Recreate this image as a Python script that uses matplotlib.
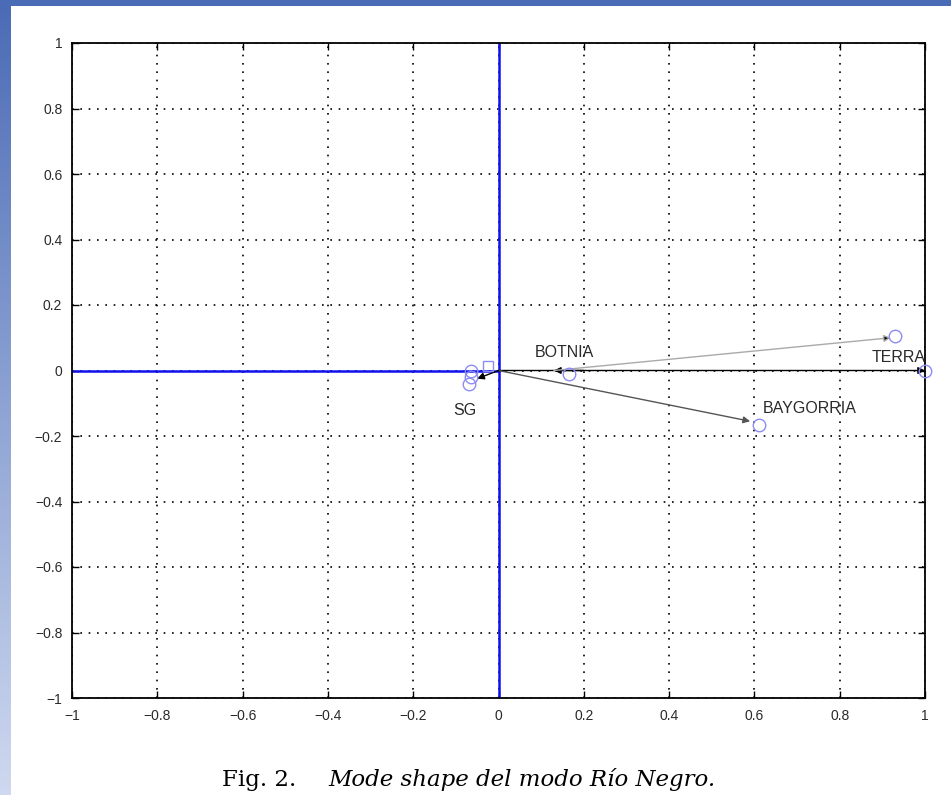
import numpy as np
import matplotlib
matplotlib.use("Agg")
import matplotlib.pyplot as plt

# mode shape vectors (tips of arrows)
names = ["TERRA", "BAYGORRIA", "BOTNIA", "SG"]
tip_x = [1.0, 0.59, 0.13, -0.05]
tip_y = [0.0, -0.155, 0.0, -0.025]
tail_x = [0.0, 0.0, 0.20, 0.0]
tail_y = [0.0, 0.0, 0.0, 0.0]
line_col = ["black", "#555555", "black", "black"]

# circle markers near the tips
circ_x = [1.0, 0.61, 0.165, -0.065, -0.065, -0.07, 0.93]
circ_y = [0.0, -0.165, -0.01, 0.0, -0.02, -0.042, 0.105]

# light grey vector
grey_tail = (0.13, 0.0)
grey_tip = (0.92, 0.10)
sq_x, sq_y = [-0.025], [0.015]

label_x = [0.876, 0.62, 0.085, -0.107]
label_y = [0.026, -0.13, 0.041, -0.136]

ticks = np.round(np.arange(-1, 1.01, 0.2), 1)
tick_labels = ["\u22121", "\u22120.8", "\u22120.6", "\u22120.4", "\u22120.2", "0",
               "0.2", "0.4", "0.6", "0.8", "1"]

W, H = 951, 795
fig = plt.figure(figsize=(W / 100, H / 100), dpi=100)

# blue slide border: top strip and left gradient strip
bg = fig.add_axes([0, 0, 1, 1], zorder=-10)
bg.set_xlim(0, W)
bg.set_ylim(H, 0)
bg.axis("off")
grad = np.linspace(0, 1, 256)[:, None]
top_c = np.array([0.29, 0.42, 0.71])
bot_c = np.array([0.81, 0.85, 0.94])
img = top_c + (bot_c - top_c) * grad
bg.imshow(img.reshape(256, 1, 3), extent=[0, 11, H, 0], aspect="auto")
bg.add_patch(plt.Rectangle((0, 0), W, 6, color=top_c, lw=0))

ax = fig.add_axes([72 / W, 97 / H, (925 - 72) / W, (698 - 43) / H])
ax.set_xlim(-1, 1)
ax.set_ylim(-1, 1)
ax.set_xticks(ticks)
ax.set_yticks(ticks)
ax.set_xticklabels(tick_labels)
ax.set_yticklabels(tick_labels)
ax.tick_params(direction="in", top=True, right=True, length=5, width=1,
               labelsize=10, labelcolor="#2a2a2a")
ax.tick_params(axis="x", pad=8)
ax.tick_params(axis="y", pad=7)
for t in ax.get_xticklabels() + ax.get_yticklabels():
    t.set_family("Liberation Sans")
ax.grid(True, color="black", linestyle=(0, (1, 4)), linewidth=1.2)
for s in ax.spines.values():
    s.set_linewidth(1.3)

ax.axvline(0, color="#1010ee", lw=1.8, zorder=2)
ax.plot([-1, 0], [0, 0], color="#1010ee", lw=1.8, zorder=2)

for i in range(len(names)):
    ax.annotate("", xy=(tip_x[i], tip_y[i]), xytext=(tail_x[i], tail_y[i]),
                arrowprops=dict(arrowstyle="-|>", color=line_col[i], lw=1.0,
                                mutation_scale=10, shrinkA=0, shrinkB=0),
                zorder=3)
    ax.text(label_x[i], label_y[i], names[i], fontsize=11.5, color="#2a2a2a",
            family="Liberation Sans", zorder=4, clip_on=False)

ax.annotate("", xy=grey_tip, xytext=grey_tail,
            arrowprops=dict(arrowstyle="-|>", color="#aaaaaa", lw=1.0,
                            mutation_scale=10, shrinkA=0, shrinkB=0,
                            fc="black"), zorder=3)
ax.plot(circ_x, circ_y, "o", ms=9, mfc="none", mec="#8c8cf5", mew=1.0, zorder=4,
        clip_on=False)
ax.plot(sq_x, sq_y, "s", ms=7, mfc="none", mec="#8c8cf5", mew=1.0, zorder=4)

fig.text(222 / W, 0.011, "Fig. 2.", fontsize=16.5, family="DejaVu Serif",
         ha="left", va="baseline")
fig.text(328 / W, 0.011, "Mode shape del modo R\u00edo Negro.", fontsize=16.5,
         family="DejaVu Serif", style="italic", ha="left", va="baseline")

fig.savefig("out.png", dpi=100)
